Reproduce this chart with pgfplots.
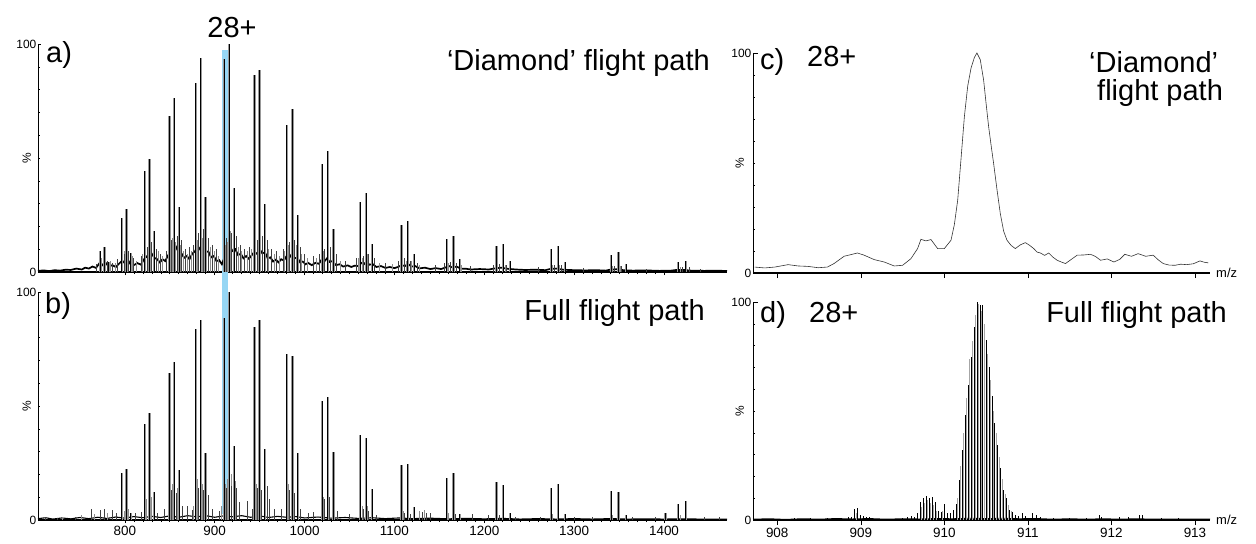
\documentclass[border=0pt]{standalone}
\usepackage{fontspec}
\setmainfont{Liberation Sans}
\usepackage{pgfplots}
\pgfplotsset{compat=1.18}
\definecolor{bandblue}{RGB}{150,214,244}
\pgfplotsset{
  msaxis/.style={
    scale only axis, anchor=south west,
    axis x line*=bottom, axis y line*=left,
    ymin=0, ymax=100,
    ytick={0,100}, minor ytick={10,20,...,90},
    ytick align=inside, xtick align=outside,
    major tick length=3bp, minor tick length=2bp,
    tick style={black, line width=0.5bp},
    x axis line style={line width=1.4bp},
    y axis line style={line width=0.9bp},
    yticklabel style={font=\fontsize{12}{12}\selectfont, inner sep=1.5bp},
    xticklabel style={font=\fontsize{13.5}{13}\selectfont},
    /pgf/number format/assume math mode=true,
    /pgf/number format/1000 sep={},
    clip=false,
  },
  halo/.style={ycomb, no marks, black!40, line width=2.4bp},
  stick/.style={ycomb, no marks, black, line width=0.9bp},
  thinstick/.style={ycomb, no marks, black!75, line width=0.6bp},
  graystick/.style={ycomb, no marks, black!45, line width=0.8bp},
}
\newcommand{\bigtxt}{\fontsize{29bp}{31bp}\selectfont}
\begin{document}
\begin{tikzpicture}
\path[use as bounding box] (0,0) rectangle (1256bp,-544bp);

% ---------------- panel a ----------------
\begin{axis}[msaxis, at={(38bp,-272bp)}, width=689bp, height=228bp,
  xmin=703.4, xmax=1470.1, xtick={800,900,...,1400}, minor x tick num=9,
  xticklabels={}]
\fill[bandblue] (axis cs:908.5,97.4) rectangle (axis cs:914.5,-106);
\addplot[black, line width=1.7bp] coordinates {
(703.4,0.5)(710,0.7)(716,0.4)(722,0.8)(728,0.6)(734,1.0)(740,0.9)(746,1.5)(752,1.1)(756,1.9)(760,1.5)(764,2.4)(768,1.8)(772,4.0)(775,3.0)(778,4.4)(782,2.4)(786,3.0)(790,2.2)(794,3.8)(797,5.0)(800,3.9)(803,5.6)(806,3.6)(810,3.0)(814,3.9)(818,3.2)(821,5.4)(824,6.8)(827,5.8)(830,8.0)(833,6.2)(836,5.6)(839,4.2)(842,5.6)(845,4.8)(848,7.2)(851,9.0)(854,8.4)(857,11.0)(860,8.6)(863,8.2)(866,6.2)(869,7.0)(872,5.6)(875,8.0)(878,9.0)(881,11.5)(884,9.8)(887,11.8)(890,8.8)(893,9.0)(896,6.4)(899,7.0)(902,4.8)(905,5.2)(908,3.4)(911,6.5)(914,8.6)(917,11.0)(920,9.2)(923,10.0)(926,7.4)(929,8.0)(932,6.0)(935,7.0)(938,5.8)(941,7.2)(944,8.8)(947,8.0)(950,10.0)(953,8.2)(956,8.6)(959,6.0)(962,6.4)(965,4.6)(968,5.4)(971,4.2)(974,5.6)(977,5.0)(980,7.0)(983,6.2)(986,8.0)(989,6.0)(992,6.4)(995,4.2)(998,4.6)(1001,3.4)(1004,4.0)(1008,3.0)(1012,4.0)(1016,3.6)(1019,5.4)(1022,4.6)(1025,6.0)(1028,4.4)(1031,4.8)(1035,3.0)(1039,3.4)(1043,2.4)(1048,2.9)(1052,2.2)(1056,2.8)(1060,2.6)(1063,4.0)(1066,3.4)(1069,4.6)(1072,3.2)(1076,3.4)(1080,2.2)(1085,2.6)(1090,1.8)(1095,2.2)(1100,1.7)(1104,2.2)(1108,3.0)(1112,2.6)(1115,3.6)(1119,2.4)(1123,2.6)(1128,1.6)(1134,1.9)(1140,1.3)(1146,1.7)(1152,1.3)(1157,2.0)(1161,2.6)(1165,1.9)(1169,2.4)(1174,1.5)(1180,1.4)(1185,1.1)(1195,1.3)(1205,1.1)(1212,1.6)(1219,1.9)(1226,1.4)(1235,1.1)(1245,0.9)(1258,1.0)(1268,0.8)(1273,1.3)(1280,1.5)(1288,1.0)(1300,0.8)(1312,0.7)(1325,0.8)(1335,0.6)(1340,1.0)(1347,1.2)(1355,0.8)(1365,0.6)(1380,0.7)(1395,0.5)(1408,0.6)(1414,0.9)(1422,0.9)(1430,0.6)(1445,0.5)(1460,0.6)(1470.1,0.4)};
\addplot[graystick] coordinates {
(774,6)(784,5)(789,4)(799.5,9)(809,7)(813,5)(820,8)(829.5,12)(837,9)(842,7)(848,10)(853,15)(856.5,13)(861.5,12)(865,9)(870,8)(874,9)(880.5,14)(886,15)(891,16)(895,11)(900,9)(904,7)(911.5,12)(914,13)(918,18)(922.5,15)(926,11)(930,9)(936,9)(941,10)(945.5,13)(951,15)(955,12)(960,10)(966,8)(972,7)(978,9)(982,12)(988,13)(991,12)(997,8)(1003,6)(1013,6)(1020.5,9)(1027,10)(1033,8)(1040,5)(1060,6)(1064,6)(1070,8)(1076,6)(1083,4)(1098,3.5)(1107,5)(1113,5)(1119,5)(1128,3)(1160,4)(1167,4)(1175,3)(1215,3)(1223,3)(1276,3)(1284,3)(1343,2.5)(1351,2.5)(1418,2)};
\addplot[thinstick] coordinates {
(768.5,3.5)(780,5)(786,4)(792,5.5)(799,8)(804,9)(810,6)(818,7)(825,11)(830,13)(835,10)(840,8)(846,9)(852,14)(858,16)(863,14)(867,10)(872,11)(876,12)(882,17)(887,18.8)(893,15)(897,12)(902,10)(913,15)(919,17)(924,16)(928,12)(933,10)(938,11)(947,14)(953,16)(958,14)(963,10)(969,9)(976,10)(983,13)(989,14)(995,11)(1000,8)(1010,7)(1016,8)(1022,10)(1029,11)(1035,8)(1045,5)(1058,6)(1065,7)(1071,8)(1078,6)(1090,4)(1104,5)(1111,6)(1118,5)(1125,4)(1145,3)(1155,4)(1162,4.5)(1169,4)(1185,2.5)(1210,3)(1217,3.5)(1225,3)(1260,2)(1278,3)(1286,3)(1310,1.8)(1345,2.5)(1353,2.5)(1380,1.5)(1420,2)(1428,2)(1440,1.5)};
\addplot[halo] table {
772.6 9.4
777.4 10.9
782.2 4.5
796.7 23.5
801.7 27.5
806.6 8.5
822.4 44.2
827.5 49.7
832.6 17.8
849.8 68.4
855.0 76.5
860.3 28.3
879.0 83.0
884.5 93.9
889.9 33.0
910.4 93.5
916.0 100
921.7 36.7
944.1 86.2
949.9 88.4
955.8 29.7
980.3 64.5
986.4 71.7
992.5 24.9
1019.5 47.5
1025.8 52.9
1032.2 18.8
1062.0 30.9
1068.5 34.5
1075.1 12.3
1108.1 20.6
1114.9 22.2
1121.8 8.0
1158.4 14.5
1165.6 15.7
1172.8 5.8
1213.5 11.3
1221.0 12.3
1228.6 5.0
1274.2 9.9
1282.1 11.3
1290.0 4.3
1341.2 7.5
1349.5 8.7
1357.8 3.3
1415.6 4.3
1424.4 5.0
};
\addplot[stick] table {
772.6 9.4
777.4 10.9
782.2 4.5
796.7 23.5
801.7 27.5
806.6 8.5
822.4 44.2
827.5 49.7
832.6 17.8
849.8 68.4
855.0 76.5
860.3 28.3
879.0 83.0
884.5 93.9
889.9 33.0
910.4 93.5
916.0 100
921.7 36.7
944.1 86.2
949.9 88.4
955.8 29.7
980.3 64.5
986.4 71.7
992.5 24.9
1019.5 47.5
1025.8 52.9
1032.2 18.8
1062.0 30.9
1068.5 34.5
1075.1 12.3
1108.1 20.6
1114.9 22.2
1121.8 8.0
1158.4 14.5
1165.6 15.7
1172.8 5.8
1213.5 11.3
1221.0 12.3
1228.6 5.0
1274.2 9.9
1282.1 11.3
1290.0 4.3
1341.2 7.5
1349.5 8.7
1357.8 3.3
1415.6 4.3
1424.4 5.0
};
\node[rotate=90, font=\fontsize{12}{12}\selectfont, anchor=south] at (axis description cs:-0.005,0.5) {\%};
\end{axis}

% ---------------- panel b ----------------
\begin{axis}[msaxis, at={(38bp,-520bp)}, width=689bp, height=228bp,
  xmin=703.4, xmax=1470.1, xtick={800,900,...,1400}, minor x tick num=9]
\addplot[black, line width=1.1bp] coordinates {
(703.4,0.6)(712,1.0)(720,0.4)(730,0.9)(740,0.5)(750,1.1)(760,0.6)(770,1.2)(780,0.7)(790,1.3)(800,0.8)(810,1.5)(820,1.0)(830,1.6)(840,1.1)(850,1.8)(860,1.2)(870,1.9)(880,1.4)(890,1.9)(900,1.2)(910,1.8)(920,1.4)(930,1.9)(940,1.2)(950,1.8)(960,1.1)(970,1.6)(980,1.2)(990,1.5)(1000,0.9)(1015,1.3)(1030,0.8)(1045,1.1)(1060,0.7)(1075,1.0)(1090,0.6)(1105,0.9)(1120,0.6)(1140,0.8)(1160,0.5)(1180,0.7)(1200,0.5)(1220,0.7)(1240,0.4)(1260,0.6)(1280,0.4)(1300,0.6)(1320,0.4)(1340,0.6)(1360,0.4)(1380,0.5)(1400,0.4)(1420,0.5)(1440,0.4)(1470.1,0.4)};
\addplot[graystick] coordinates {
(730,1.5)(752,2)(766,2.5)(781,3)(799,4)(804,5)(824,9)(830,10)(848,8)(853,16)(858,14)(876,6)(881,18)(886,16)(891,12)(908,6)(912,16)(914,18)(919,20)(923,17)(946,16)(951,18)(956,14)(982,16)(988,15)(1021,10)(1027,12)(1064,6)(1070,6)(1110,4)(1128,4)(1133,4.5)(1160,3)(1167,3)(1215,2.5)(1276,2.5)(1343,2)(1418,2)};
\addplot[thinstick] coordinates {
(712,1.5)(725,1)(745,1.5)(762.4,4.7)(772.6,4.4)(777.4,4.7)(786.1,4.4)(791,3)(812,3)(818,3.5)(836,3)(843.6,5)(852,13)(857,12)(864,6)(869,6)(874.8,4.5)(882,14)(887,13)(893,11)(897,5)(905,4)(913,14)(918,15)(924,14)(927,8)(935.9,8.3)(942,5)(947,14)(952,13)(958,15)(961,9)(966,5)(974,5)(983,13)(989,12)(995,5)(1004,3)(1010,3.5)(1022,9)(1028,10)(1036,4)(1050,2.5)(1065,5)(1071,4)(1080,2)(1111,3)(1118,2.5)(1131,3.5)(1136,3)(1140,3)(1168,2.5)(1187,2.5)(1205,2)(1217,2)(1235,1.5)(1262,1.5)(1300,1.5)(1320,1.5)(1365,1.5)(1390,1.5)(1445,1.2)(1462,1.2)};
\addplot[halo] table {
796.7 20.7
801.7 22.2
806.6 3
822.4 42
827.5 47
832.6 12.4
849.8 64.5
855.0 69.2
860.3 21.9
879.0 83.9
884.5 87.9
889.9 29.5
910.4 88.8
916.0 100
921.7 32.6
944.1 84.7
949.9 87.9
955.8 31.1
980.3 73
986.4 72
992.5 29.2
1019.5 52.3
1025.8 54
1032.2 29.9
1062.0 37.2
1068.5 36.1
1075.1 13.4
1108.1 24.1
1114.9 24.5
1121.8 5.5
1158.4 18.5
1165.6 20.4
1172.8 2.5
1213.5 16.8
1221.0 15.3
1228.6 2.9
1274.2 13.9
1282.1 15.8
1290.0 2.5
1341.2 12.8
1349.5 12.1
1357.8 2
1401.5 2.9
1415.6 6.9
1424.4 8.3
};
\addplot[stick] table {
796.7 20.7
801.7 22.2
806.6 3
822.4 42
827.5 47
832.6 12.4
849.8 64.5
855.0 69.2
860.3 21.9
879.0 83.9
884.5 87.9
889.9 29.5
910.4 88.8
916.0 100
921.7 32.6
944.1 84.7
949.9 87.9
955.8 31.1
980.3 73
986.4 72
992.5 29.2
1019.5 52.3
1025.8 54
1032.2 29.9
1062.0 37.2
1068.5 36.1
1075.1 13.4
1108.1 24.1
1114.9 24.5
1121.8 5.5
1158.4 18.5
1165.6 20.4
1172.8 2.5
1213.5 16.8
1221.0 15.3
1228.6 2.9
1274.2 13.9
1282.1 15.8
1290.0 2.5
1341.2 12.8
1349.5 12.1
1357.8 2
1401.5 2.9
1415.6 6.9
1424.4 8.3
};
\node[rotate=90, font=\fontsize{12}{12}\selectfont, anchor=south] at (axis description cs:-0.005,0.5) {\%};
\end{axis}

% ---------------- panel c ----------------
\begin{axis}[msaxis, at={(753bp,-273bp)}, width=457bp, height=220bp,
  xmin=907.71, xmax=913.18, xtick={908,909,...,913}, xticklabels={},
  major tick length=5bp]
\addplot[black!80, line width=0.6bp] coordinates {
(907.73,2.7)(907.85,2.3)(907.97,2.7)(908.13,3.8)(908.25,3.2)(908.37,3.0)(908.49,2.4)(908.60,2.7)(908.68,4.3)(908.80,7.6)(908.96,9.1)(909.04,8.1)(909.16,6.1)(909.28,5.0)(909.40,3.2)(909.50,3.5)(909.60,6.5)(909.68,11.1)(909.72,15.3)(909.78,14.6)(909.84,15.2)(909.92,11.1)(910.00,11.1)(910.08,14.9)(910.12,22)(910.16,33.1)(910.20,52)(910.24,71.1)(910.28,85)(910.32,93.2)(910.36,98)(910.39,100)(910.43,97)(910.47,87.8)(910.50,77)(910.53,66.6)(910.56,58)(910.59,49.8)(910.63,38)(910.67,27)(910.71,19)(910.75,14.9)(910.80,12.5)(910.85,11.1)(910.91,12.8)(910.97,13.8)(911.02,12.6)(911.07,11.1)(911.11,9.5)(911.15,9.1)(911.20,8.0)(911.25,9.1)(911.30,7.2)(911.35,5.8)(911.40,5.0)(911.45,4.3)(911.52,6.2)(911.59,8.1)(911.67,8.2)(911.75,8.5)(911.81,7.5)(911.87,5.8)(911.95,6.4)(912.03,5.0)(912.10,6.2)(912.16,8.5)(912.24,7.6)(912.32,8.8)(912.41,7.6)(912.50,8.1)(912.56,6.0)(912.62,4.3)(912.69,3.6)(912.76,3.5)(912.83,4.0)(912.90,3.8)(912.98,4.2)(913.06,5.5)(913.11,4.9)(913.16,4.6)};
\node[rotate=90, font=\fontsize{12}{12}\selectfont, anchor=south] at (axis description cs:-0.012,0.5) {\%};
\node[anchor=west, font=\fontsize{13}{13}\selectfont, inner sep=0] at ([xshift=6bp]axis description cs:1,0) {m/z};
\end{axis}

% ---------------- panel d ----------------
\begin{axis}[msaxis, at={(753bp,-520bp)}, width=457bp, height=218bp,
  xmin=907.71, xmax=913.18, xtick={908,909,...,913},
  major tick length=5bp]
\addplot[black, line width=0.8bp] coordinates {
(907.71,0.4)(907.9,0.6)(908.1,0.3)(908.3,0.6)(908.5,0.4)(908.7,0.7)(908.9,0.5)(909.1,0.7)(909.3,0.4)(909.5,0.6)(909.7,0.5)(909.9,0.7)(910.1,0.6)(910.3,0.8)(910.5,0.7)(910.7,0.8)(910.9,0.6)(911.1,0.7)(911.3,0.4)(911.5,0.6)(911.7,0.4)(911.9,0.6)(912.1,0.4)(912.3,0.6)(912.5,0.4)(912.7,0.5)(912.9,0.4)(913.18,0.5)};
\addplot[ycomb, no marks, black!35, line width=0.9bp] table {
910.158 10
910.194 25
910.229 40
910.265 56
910.301 74
910.337 82
910.372 94
910.408 99
910.444 96
910.479 90
910.515 76
910.551 64
910.587 50
910.622 40
910.658 29
910.694 19
910.729 12
910.765 7
910.801 4
909.729 6
909.765 8
909.801 9
909.837 8
909.872 7
909.908 4
909.979 4
908.943 3
};
\addplot[ycomb, no marks, black, line width=0.7bp] table {
910.069 3
910.104 4.5
910.140 7.5
910.176 18.3
910.211 32
910.247 48
910.283 62
910.319 75
910.354 88.5
910.390 100
910.426 98.5
910.461 98.5
910.497 82.4
910.533 70.2
910.569 56.8
910.604 44.3
910.640 34.4
910.676 23.7
910.711 13.7
910.747 9.9
910.783 4.6
910.819 3.8
910.854 2.5
910.890 2
909.640 1.5
909.676 3
909.711 8.4
909.747 9.9
909.783 11
909.819 9.9
909.854 10.4
909.890 8.4
909.926 4.1
909.961 3.5
909.997 7.2
910.033 3
908.750 1.0
908.850 1.2
908.890 1.5
908.925 5
908.960 5.5
908.997 2.5
909.030 2
909.070 1.5
909.100 1.2
908.200 0.8
908.400 0.9
908.600 0.8
909.500 0.8
909.560 1.2
909.600 2
910.930 3
910.970 2
911.050 3
911.100 2.5
911.150 1.5
911.300 1
911.500 0.9
911.700 1
911.850 2.5
911.880 1.5
912.100 1.5
912.200 1.5
912.330 2.5
912.370 2.5
912.600 0.9
912.800 0.8
};
\node[rotate=90, font=\fontsize{12}{12}\selectfont, anchor=south] at (axis description cs:-0.012,0.5) {\%};
\node[anchor=west, font=\fontsize{13}{13}\selectfont, inner sep=0] at ([xshift=6bp]axis description cs:1,0) {m/z};
\end{axis}

% ---------------- annotations ----------------
\begin{scope}[every node/.style={inner sep=0, font=\bigtxt}]
\node[anchor=base] at (232bp,-37bp) {28+};
\node[anchor=base west] at (46bp,-62bp) {a)};
\node[anchor=base east] at (710bp,-70bp) {‘Diamond’ flight path};
\node[anchor=base west] at (45bp,-313bp) {b)};
\node[anchor=base east] at (705bp,-320bp) {Full flight path};
\node[anchor=base west] at (760bp,-69bp) {c)};
\node[anchor=base west] at (807bp,-66bp) {28+};
\node[anchor=base west] at (1089bp,-72bp) {‘Diamond’};
\node[anchor=base west] at (1097bp,-100bp) {flight path};
\node[anchor=base west] at (760bp,-322bp) {d)};
\node[anchor=base west] at (809bp,-322bp) {28+};
\node[anchor=base east] at (1227bp,-322bp) {Full flight path};
\end{scope}
\end{tikzpicture}
\end{document}
